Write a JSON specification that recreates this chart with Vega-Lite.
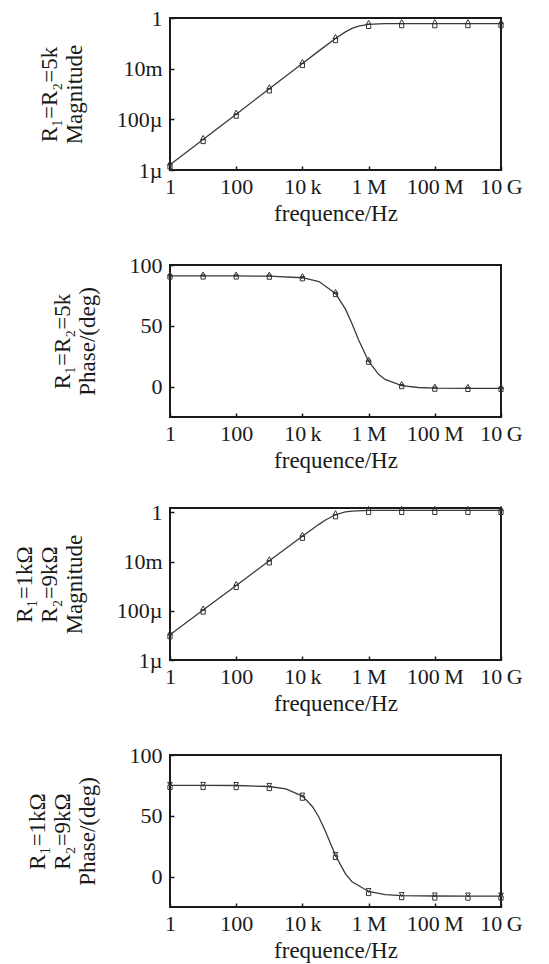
{
  "$schema": "https://vega.github.io/schema/vega-lite/v6.json",
  "background": "white",
  "padding": {"left": 12, "top": 6, "right": 5, "bottom": 2},
  "spacing": 27,
  "config": {
    "font": "Liberation Serif",
    "view": {"stroke": "#1a1a1a", "strokeWidth": 2},
    "axis": {
      "grid": false,
      "domain": false,
      "tickSize": -4,
      "tickColor": "#1a1a1a",
      "tickWidth": 1.5,
      "labelFont": "Liberation Serif",
      "labelFontSize": 22,
      "labelColor": "#1a1a1a",
      "labelOverlap": false,
      "labelFlush": false,
      "titleFont": "Liberation Serif",
      "titleFontSize": 23,
      "titleFontWeight": "normal",
      "titleColor": "#1a1a1a",
      "titleLineHeight": 25
    },
    "axisX": {"labelPadding": 10, "titlePadding": 5},
    "axisY": {"labelPadding": 12, "titlePadding": 30}
  },
  "datasets": {
    "mag1": [
      {"f": 1, "v": 0.0000016}, {"f": 10, "v": 0.000016}, {"f": 100, "v": 0.00016},
      {"f": 1000, "v": 0.0016}, {"f": 10000, "v": 0.016}, {"f": 31600, "v": 0.0504},
      {"f": 100000, "v": 0.1546}, {"f": 200000, "v": 0.2824}, {"f": 316000, "v": 0.3866},
      {"f": 500000, "v": 0.48}, {"f": 1000000, "v": 0.5618}, {"f": 2000000, "v": 0.5898},
      {"f": 3160000, "v": 0.5955}, {"f": 10000000, "v": 0.5996}, {"f": 100000000, "v": 0.6},
      {"f": 1000000000, "v": 0.6}, {"f": 10000000000, "v": 0.6}
    ],
    "ph1": [
      {"f": 1, "v": 91.0}, {"f": 10, "v": 91.0}, {"f": 100, "v": 90.99},
      {"f": 1000, "v": 90.85}, {"f": 10000, "v": 89.53}, {"f": 31600, "v": 86.36},
      {"f": 100000, "v": 76.57}, {"f": 200000, "v": 63.7}, {"f": 316000, "v": 51.63},
      {"f": 500000, "v": 38.23}, {"f": 1000000, "v": 20.91}, {"f": 2000000, "v": 10.12},
      {"f": 3160000, "v": 5.91}, {"f": 10000000, "v": 0.85}, {"f": 31600000, "v": -0.75},
      {"f": 100000000, "v": -1.26}, {"f": 1000000000, "v": -1.47}, {"f": 10000000000, "v": -1.5}
    ],
    "mag2": [
      {"f": 1, "v": 0.0000107}, {"f": 10, "v": 0.000107}, {"f": 100, "v": 0.00107},
      {"f": 1000, "v": 0.0107}, {"f": 10000, "v": 0.1066}, {"f": 31600, "v": 0.3254},
      {"f": 50000, "v": 0.4885}, {"f": 100000, "v": 0.7982}, {"f": 200000, "v": 1.0456},
      {"f": 316000, "v": 1.1296}, {"f": 1000000, "v": 1.191}, {"f": 10000000, "v": 1.1999},
      {"f": 100000000, "v": 1.2}, {"f": 1000000000, "v": 1.2}, {"f": 10000000000, "v": 1.2}
    ],
    "ph2": [
      {"f": 1, "v": 75.0}, {"f": 10, "v": 75.0}, {"f": 100, "v": 74.91},
      {"f": 1000, "v": 74.11}, {"f": 3160, "v": 72.18}, {"f": 10000, "v": 66.16},
      {"f": 20000, "v": 57.71}, {"f": 31600, "v": 48.78}, {"f": 50000, "v": 37.01},
      {"f": 100000, "v": 17.4}, {"f": 200000, "v": 2.2}, {"f": 316000, "v": -4.25},
      {"f": 1000000, "v": -12.24}, {"f": 3160000, "v": -14.81}, {"f": 10000000, "v": -15.62},
      {"f": 100000000, "v": -15.96}, {"f": 1000000000, "v": -16.0}, {"f": 10000000000, "v": -16.0}
    ]
  },
  "vconcat": [
    {
      "width": 331, "height": 152,
      "data": {"name": "mag1"},
      "encoding": {
        "x": {"field": "f", "type": "quantitative", "scale": {"type": "log", "domain": [1, 10000000000], "nice": false},
          "axis": {"values": [1, 100, 10000, 1000000, 100000000, 10000000000], "title": "frequence/Hz",
            "labelExpr": "datum.value == 1 ? '1' : datum.value == 100 ? '100' : datum.value == 10000 ? '10\u2009k' : datum.value == 1000000 ? '1\u2009M' : datum.value == 100000000 ? '100\u2009M' : '10\u2009G'"}},
        "y": {"field": "v", "type": "quantitative", "scale": {"type": "log", "domain": [0.000001, 1], "nice": false},
          "axis": {"values": [0.000001, 0.0001, 0.01, 1], "title": ["R₁=R₂=5k", "Magnitude"],
            "labelExpr": "datum.value == 1 ? '1' : datum.value == 0.01 ? '10m' : datum.value == 0.0001 ? '100µ' : '1µ'"}}
      },
      "layer": [
        {"mark": {"type": "line", "color": "#3a3a3a", "strokeWidth": 1.3}},
        {"transform": [{"filter": "abs(log(datum.f)/LN10 - round(log(datum.f)/LN10)) < 0.000001"}],
          "mark": {"type": "point", "shape": "square", "filled": false, "size": 18, "stroke": "#333", "strokeWidth": 1, "opacity": 1, "yOffset": 2}},
        {"transform": [{"filter": "abs(log(datum.f)/LN10 - round(log(datum.f)/LN10)) < 0.000001"}],
          "mark": {"type": "point", "shape": "triangle-up", "filled": false, "size": 22, "stroke": "#333", "strokeWidth": 1, "opacity": 1, "yOffset": -2}}
      ]
    },
    {
      "width": 331, "height": 152,
      "data": {"name": "ph1"},
      "encoding": {
        "x": {"field": "f", "type": "quantitative", "scale": {"type": "log", "domain": [1, 10000000000], "nice": false},
          "axis": {"values": [1, 100, 10000, 1000000, 100000000, 10000000000], "title": "frequence/Hz",
            "labelExpr": "datum.value == 1 ? '1' : datum.value == 100 ? '100' : datum.value == 10000 ? '10\u2009k' : datum.value == 1000000 ? '1\u2009M' : datum.value == 100000000 ? '100\u2009M' : '10\u2009G'"}},
        "y": {"field": "v", "type": "quantitative", "scale": {"domain": [-25, 100], "nice": false, "zero": false},
          "axis": {"values": [0, 50, 100], "title": ["R₁=R₂=5k", "Phase/(deg)"]}}
      },
      "layer": [
        {"mark": {"type": "line", "color": "#3a3a3a", "strokeWidth": 1.3}},
        {"transform": [{"filter": "abs(log(datum.f)/LN10 - round(log(datum.f)/LN10)) < 0.000001"}],
          "mark": {"type": "point", "shape": "square", "filled": false, "size": 18, "stroke": "#333", "strokeWidth": 1, "opacity": 1, "yOffset": 1}},
        {"transform": [{"filter": "abs(log(datum.f)/LN10 - round(log(datum.f)/LN10)) < 0.000001"}],
          "mark": {"type": "point", "shape": "triangle-up", "filled": false, "size": 22, "stroke": "#333", "strokeWidth": 1, "opacity": 1, "yOffset": -2}}
      ]
    },
    {
      "width": 331, "height": 152,
      "data": {"name": "mag2"},
      "encoding": {
        "x": {"field": "f", "type": "quantitative", "scale": {"type": "log", "domain": [1, 10000000000], "nice": false},
          "axis": {"values": [1, 100, 10000, 1000000, 100000000, 10000000000], "title": "frequence/Hz",
            "labelExpr": "datum.value == 1 ? '1' : datum.value == 100 ? '100' : datum.value == 10000 ? '10\u2009k' : datum.value == 1000000 ? '1\u2009M' : datum.value == 100000000 ? '100\u2009M' : '10\u2009G'"}},
        "y": {"field": "v", "type": "quantitative", "scale": {"type": "log", "domain": [0.000001, 1.5], "nice": false},
          "axis": {"values": [0.000001, 0.0001, 0.01, 1], "title": ["R₁=1kΩ", "R₂=9kΩ", "Magnitude"],
            "labelExpr": "datum.value == 1 ? '1' : datum.value == 0.01 ? '10m' : datum.value == 0.0001 ? '100µ' : '1µ'"}}
      },
      "layer": [
        {"mark": {"type": "line", "color": "#3a3a3a", "strokeWidth": 1.3}},
        {"transform": [{"filter": "abs(log(datum.f)/LN10 - round(log(datum.f)/LN10)) < 0.000001"}],
          "mark": {"type": "point", "shape": "square", "filled": false, "size": 18, "stroke": "#333", "strokeWidth": 1, "opacity": 1, "yOffset": 2}},
        {"transform": [{"filter": "abs(log(datum.f)/LN10 - round(log(datum.f)/LN10)) < 0.000001"}],
          "mark": {"type": "point", "shape": "triangle-up", "filled": false, "size": 22, "stroke": "#333", "strokeWidth": 1, "opacity": 1, "yOffset": -2}}
      ]
    },
    {
      "width": 331, "height": 152,
      "data": {"name": "ph2"},
      "encoding": {
        "x": {"field": "f", "type": "quantitative", "scale": {"type": "log", "domain": [1, 10000000000], "nice": false},
          "axis": {"values": [1, 100, 10000, 1000000, 100000000, 10000000000], "title": "frequence/Hz",
            "labelExpr": "datum.value == 1 ? '1' : datum.value == 100 ? '100' : datum.value == 10000 ? '10\u2009k' : datum.value == 1000000 ? '1\u2009M' : datum.value == 100000000 ? '100\u2009M' : '10\u2009G'"}},
        "y": {"field": "v", "type": "quantitative", "scale": {"domain": [-25, 100], "nice": false, "zero": false},
          "axis": {"values": [0, 50, 100], "title": ["R₁=1kΩ", "R₂=9kΩ", "Phase/(deg)"]}}
      },
      "layer": [
        {"mark": {"type": "line", "color": "#3a3a3a", "strokeWidth": 1.3}},
        {"transform": [{"filter": "abs(log(datum.f)/LN10 - round(log(datum.f)/LN10)) < 0.000001"}],
          "mark": {"type": "point", "shape": "square", "filled": false, "size": 18, "stroke": "#333", "strokeWidth": 1, "opacity": 1, "yOffset": 2}},
        {"transform": [{"filter": "abs(log(datum.f)/LN10 - round(log(datum.f)/LN10)) < 0.000001"}],
          "mark": {"type": "point", "shape": "triangle-down", "filled": false, "size": 22, "stroke": "#333", "strokeWidth": 1, "opacity": 1, "yOffset": -1}}
      ]
    }
  ]
}
